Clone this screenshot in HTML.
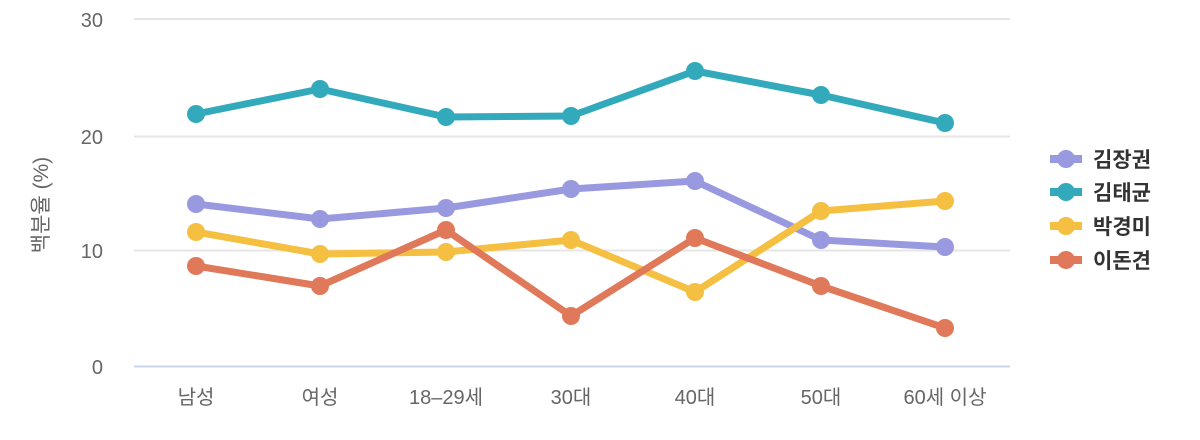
<!DOCTYPE html>
<html><head><meta charset="utf-8"><style>
body{margin:0;background:#fff;}
svg{display:block;font-family:"Liberation Sans","Noto Sans CJK KR",sans-serif;}
</style></head><body>
<svg width="1200" height="440" viewBox="0 0 1200 440">
<g stroke="#e6e6e6" stroke-width="2">
<line x1="134" y1="19" x2="1010" y2="19"/>
<line x1="134" y1="136.5" x2="1010" y2="136.5"/>
<line x1="134" y1="250.5" x2="1010" y2="250.5"/>
</g>
<line x1="134" y1="366.5" x2="1010" y2="366.5" stroke="#ccd6eb" stroke-width="2"/>
<g fill="#666" font-size="20" text-anchor="end">
<text x="103" y="27">30</text>
<text x="103" y="144">20</text>
<text x="103" y="258">10</text>
<text x="103" y="374">0</text>
</g>
<text transform="translate(48,205) rotate(-90)" fill="#666" font-size="21" text-anchor="middle">백분율 (%)</text>
<g fill="#666" font-size="20" text-anchor="middle">
<text x="196" y="404">남성</text>
<text x="320" y="404">여성</text>
<text x="446" y="404">18–29세</text>
<text x="571" y="404">30대</text>
<text x="695" y="404">40대</text>
<text x="821" y="404">50대</text>
<text x="945" y="404">60세 이상</text>
</g>
<g fill="none" stroke-width="7" stroke-linejoin="round" stroke-linecap="round">
<polyline stroke="#9999e0" points="196,204 320,219 446,208 571,189 695,181 821,240 945,247"/>
<polyline stroke="#33aabb" points="196,114 320,89 446,117 571,116 695,71 821,95 945,123"/>
<polyline stroke="#f5bf42" points="196,232 320,254 446,252 571,240 695,292 821,211 945,201"/>
<polyline stroke="#e0785a" points="196,266 320,286 446,230 571,316 695,238 821,286 945,328"/>
</g>
<g fill="#9999e0"><circle cx="196" cy="204" r="9"/><circle cx="320" cy="219" r="9"/><circle cx="446" cy="208" r="9"/><circle cx="571" cy="189" r="9"/><circle cx="695" cy="181" r="9"/><circle cx="821" cy="240" r="9"/><circle cx="945" cy="247" r="9"/></g>
<g fill="#33aabb"><circle cx="196" cy="114" r="9"/><circle cx="320" cy="89" r="9"/><circle cx="446" cy="117" r="9"/><circle cx="571" cy="116" r="9"/><circle cx="695" cy="71" r="9"/><circle cx="821" cy="95" r="9"/><circle cx="945" cy="123" r="9"/></g>
<g fill="#f5bf42"><circle cx="196" cy="232" r="9"/><circle cx="320" cy="254" r="9"/><circle cx="446" cy="252" r="9"/><circle cx="571" cy="240" r="9"/><circle cx="695" cy="292" r="9"/><circle cx="821" cy="211" r="9"/><circle cx="945" cy="201" r="9"/></g>
<g fill="#e0785a"><circle cx="196" cy="266" r="9"/><circle cx="320" cy="286" r="9"/><circle cx="446" cy="230" r="9"/><circle cx="571" cy="316" r="9"/><circle cx="695" cy="238" r="9"/><circle cx="821" cy="286" r="9"/><circle cx="945" cy="328" r="9"/></g>
<g font-size="21" font-weight="bold" fill="#333">
<rect x="1050" y="155" width="32" height="8" fill="#9999e0"/><circle cx="1066" cy="159" r="9" fill="#9999e0"/><text x="1093" y="167">김장권</text>
<rect x="1050" y="188" width="32" height="8" fill="#33aabb"/><circle cx="1066" cy="192" r="9" fill="#33aabb"/><text x="1093" y="200">김태균</text>
<rect x="1050" y="222" width="32" height="8" fill="#f5bf42"/><circle cx="1066" cy="226" r="9" fill="#f5bf42"/><text x="1093" y="234">박경미</text>
<rect x="1050" y="256" width="32" height="8" fill="#e0785a"/><circle cx="1066" cy="260" r="9" fill="#e0785a"/><text x="1093" y="268">이돈견</text>
</g>
</svg>
</body></html>
